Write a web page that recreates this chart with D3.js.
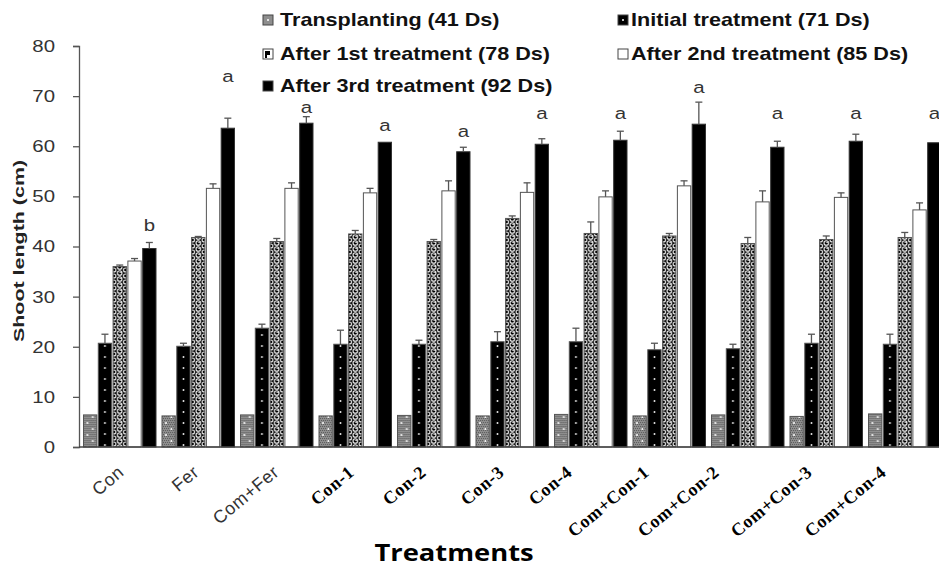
<!DOCTYPE html>
<html>
<head>
<meta charset="utf-8">
<script src="https://cdn.jsdelivr.net/npm/d3@7"></script>
<style>
    body { margin: 0; background: #fff; }
    svg { display: block; }
</style>
</head>
<body>
<svg id="canvas" width="939" height="571"></svg>
<script>
// chart data
let treatments = ['Con', 'Fer', 'Com+Fer', 'Con-1', 'Con-2', 'Con-3', 'Con-4',
    'Com+Con-1', 'Com+Con-2', 'Com+Con-3', 'Com+Con-4']
let seriesNames = ['Transplanting (41 Ds)', 'Initial treatment (71 Ds)', 'After 1st treatment (78 Ds)',
    'After 2nd treatment (85 Ds)', 'After 3rd treatment (92 Ds)']

let transplanting = [6.4, 6.2, 6.4, 6.2, 6.3, 6.2, 6.5, 6.2, 6.4, 6.1, 6.6]
let initialTreatment = [20.7, 20.1, 23.7, 20.5, 20.5, 21.0, 21.0, 19.4, 19.6, 20.7, 20.5]
let firstTreatment = [36.0, 41.8, 41.0, 42.5, 41.0, 45.6, 42.6, 42.1, 40.6, 41.4, 41.8]
let secondTreatment = [37.1, 51.6, 51.6, 50.7, 51.1, 50.8, 49.9, 52.1, 48.9, 49.8, 47.3]
let thirdTreatment = [39.6, 63.6, 64.6, 60.8, 58.9, 60.4, 61.2, 64.4, 59.8, 61.0, 60.7]

// standard errors (upper whisker only)
let errTransplanting = [0, 0, 0, 0, 0, 0, 0, 0, 0, 0, 0]
let errInitial = [1.8, 0.6, 0.8, 2.8, 0.8, 2.0, 2.7, 1.3, 0.9, 1.8, 2.0]
let errFirst = [0.3, 0.2, 0.6, 0.7, 0.4, 0.5, 2.3, 0.5, 1.2, 0.7, 1.0]
let errSecond = [0.5, 0.9, 1.1, 0.9, 2.0, 1.9, 1.2, 1.0, 2.2, 0.9, 1.4]
let errThird = [1.2, 2.0, 1.3, 0, 0.9, 1.1, 1.8, 4.4, 1.2, 1.4, 0]

let letters = ['b', 'a', 'a', 'a', 'a', 'a', 'a', 'a', 'a', 'a', 'a']
let yTicks = [0, 10, 20, 30, 40, 50, 60, 70, 80]

// layout tweaks (hand placed labels in the original)
let labelNudge = [5.5, 2, 3.5, 0, -6.5, -7, -17.5, -19, -27.5, -13, -17.5]
let letterGap = [17, 42, 10, 17, 16, 26, 18, 15, 28, 21, 30]
let stretch = 1.2

let values = [transplanting, initialTreatment, firstTreatment, secondTreatment, thirdTreatment]
let errors = [errTransplanting, errInitial, errFirst, errSecond, errThird]
let keys = ['trans', 'init', 'first', 'second', 'third']

let canvas = d3.select('#canvas')

let groupStep = 78.5
let x0 = d3.scaleBand()
    .domain(treatments)
    .range([83.5, 83.5 + groupStep * treatments.length])
    .padding(0)
let x1 = d3.scaleBand()
    .domain(keys)
    .range([0, 72.5])
    .paddingInner(0.1)
let y = d3.scaleLinear()
    .domain([0, 80])
    .range([447, 46])

let bw = x1.bandwidth()

// patterns: tile width = one group, so the texture sits on the same spot in every bar
let defs = canvas.append('defs')

let pTrans = defs.append('pattern')
    .attr('id', 'p-trans')
    .attr('patternUnits', 'userSpaceOnUse')
    .attr('x', x0.range()[0]).attr('y', 0)
    .attr('width', x0.step()).attr('height', 12)
pTrans.append('rect').attr('width', x0.step()).attr('height', 12).attr('fill', '#8e8e8e')
for (let i = 0; i < 7; i++) {
    for (let j = 0; j < 6; j++) {
        pTrans.append('rect')
            .attr('x', x1('trans') + i * 2 + (j % 2))
            .attr('y', j * 2)
            .attr('width', 1).attr('height', 1)
            .attr('fill', '#5c5c5c')
    }
}
pTrans.append('circle').attr('cx', x1('trans') + bw * 0.3).attr('cy', 3).attr('r', 1).attr('fill', '#fff')
pTrans.append('circle').attr('cx', x1('trans') + bw * 0.7).attr('cy', 9).attr('r', 1).attr('fill', '#fff')

let pInit = defs.append('pattern')
    .attr('id', 'p-init')
    .attr('patternUnits', 'userSpaceOnUse')
    .attr('x', x0.range()[0]).attr('y', 0)
    .attr('width', x0.step()).attr('height', 11)
pInit.append('rect').attr('width', x0.step()).attr('height', 11).attr('fill', '#000')
pInit.append('circle').attr('cx', x1('init') + bw / 2).attr('cy', 5).attr('r', 0.9).attr('fill', '#fff')

let pFirst = defs.append('pattern')
    .attr('id', 'p-first')
    .attr('patternUnits', 'userSpaceOnUse')
    .attr('x', x0.range()[0]).attr('y', 0)
    .attr('width', x0.step()).attr('height', 6)
pFirst.append('rect').attr('width', x0.step()).attr('height', 6).attr('fill', '#000')
let fc = x1('first') + bw / 2
let ring = (cx, cy, r) => {
    pFirst.append('circle').attr('cx', cx).attr('cy', cy).attr('r', r)
        .attr('fill', 'none').attr('stroke', '#fff').attr('stroke-width', 1.1)
}
ring(fc, 3, 2.3)
ring(fc - 5.8, 0, 2.0)
ring(fc - 5.8, 6, 2.0)
ring(fc + 5.8, 0, 2.0)
ring(fc + 5.8, 6, 2.0)
pFirst.append('circle').attr('cx', fc + 0.6).attr('cy', 2.4).attr('r', 0.7).attr('fill', '#fff')

let fills = {
    trans: 'url(#p-trans)',
    init: 'url(#p-init)',
    first: 'url(#p-first)',
    second: '#fff',
    third: '#000'
}

// bars
let rows = []
treatments.forEach((t, i) => {
    keys.forEach((k, s) => {
        rows.push({ t: t, i: i, key: k, value: values[s][i], err: errors[s][i] })
    })
})

let groups = canvas.append('g')

groups.selectAll('rect.bar')
    .data(rows)
    .enter()
    .append('rect')
    .attr('class', 'bar')
    .attr('x', (d) => x0(d.t) + x1(d.key))
    .attr('y', (d) => y(d.value))
    .attr('width', bw)
    .attr('height', (d) => y(0) - y(d.value))
    .attr('fill', (d) => fills[d.key])
    .attr('stroke', (d) => d.key === 'third' ? '#333' : '#555')
    .attr('stroke-width', 1)

// error whiskers
let withErr = rows.filter((d) => d.err > 0)
let errG = groups.selectAll('g.err')
    .data(withErr)
    .enter()
    .append('g')
    .attr('class', 'err')
    .attr('stroke', '#555')
    .attr('stroke-width', 1.3)
errG.append('line')
    .attr('x1', (d) => x0(d.t) + x1(d.key) + bw / 2)
    .attr('x2', (d) => x0(d.t) + x1(d.key) + bw / 2)
    .attr('y1', (d) => y(d.value))
    .attr('y2', (d) => y(d.value + d.err))
errG.append('line')
    .attr('x1', (d) => x0(d.t) + x1(d.key) + bw / 2 - 3.5)
    .attr('x2', (d) => x0(d.t) + x1(d.key) + bw / 2 + 3.5)
    .attr('y1', (d) => y(d.value + d.err))
    .attr('y2', (d) => y(d.value + d.err))

// significance letters
canvas.selectAll('text.letter')
    .data(letters)
    .enter()
    .append('text')
    .attr('class', 'letter')
    .attr('transform', (d, i) => {
        let cx = x0(treatments[i]) + x1('third') + bw / 2
        let top = y(thirdTreatment[i] + errThird[i])
        return 'translate(' + cx + ',' + (top - letterGap[i] + 6) + ') scale(' + stretch + ',1)'
    })
    .attr('text-anchor', 'middle')
    .attr('font-family', 'Liberation Sans, Arial, sans-serif')
    .attr('font-size', 17)
    .attr('fill', '#333')
    .text((d) => d)

// y axis
let yAxis = canvas.append('g')
    .attr('transform', 'translate(79,0)')
    .call(d3.axisLeft(y).tickValues(yTicks).tickSize(6).tickPadding(14))
yAxis.select('.domain').attr('stroke', '#555').attr('stroke-width', 1.3)
yAxis.selectAll('.tick line').attr('stroke', '#555').attr('stroke-width', 1.3)
yAxis.selectAll('.tick text')
    .attr('font-family', 'Liberation Sans, Arial, sans-serif')
    .attr('font-size', 17)
    .attr('fill', '#333')
    .attr('transform', 'scale(' + stretch + ',1)')

// x axis baseline
canvas.append('line')
    .attr('x1', 79).attr('x2', 939)
    .attr('y1', y(0)).attr('y2', y(0))
    .attr('stroke', '#444')
    .attr('stroke-width', 1.5)

// category labels
canvas.selectAll('text.cat')
    .data(treatments)
    .enter()
    .append('text')
    .attr('class', 'cat')
    .attr('x', 0)
    .attr('y', 0)
    .attr('transform', (d, i) => {
        let cx = x0(d) + x1.range()[1] / 2 + labelNudge[i]
        return 'translate(' + cx + ',474) rotate(-40)'
    })
    .attr('text-anchor', 'end')
    .attr('font-family', (d, i) => i < 3 ? 'Liberation Sans, Arial, sans-serif' : 'Liberation Serif, Times New Roman, serif')
    .attr('font-weight', (d, i) => i < 3 ? 'normal' : 'bold')
    .attr('font-size', 18)
    .attr('letter-spacing', 0.6)
    .attr('fill', (d, i) => i < 3 ? '#333' : '#000')
    .text((d) => d)

// axis titles
canvas.append('text')
    .attr('transform', 'translate(454,561) scale(1.14,1)')
    .attr('text-anchor', 'middle')
    .attr('font-family', 'Open Sans, sans-serif')
    .attr('font-weight', 'bold')
    .attr('font-size', 24)
    .attr('fill', '#000')
    .text('Treatments')

canvas.append('text')
    .attr('transform', 'translate(24,251) rotate(-90) scale(1.43,1)')
    .attr('text-anchor', 'middle')
    .attr('font-family', 'Liberation Sans, Arial, sans-serif')
    .attr('font-weight', 'bold')
    .attr('font-size', 15)
    .attr('fill', '#222')
    .text('Shoot length (cm)')

// legend
let legendCols = [263, 618]
let legendRows = [26, 60, 92]
let legend = canvas.selectAll('g.legend')
    .data(seriesNames)
    .enter()
    .append('g')
    .attr('class', 'legend')
    .attr('transform', (d, i) => 'translate(' + legendCols[i % 2] + ',' + legendRows[Math.floor(i / 2)] + ')')

legend.append('rect')
    .attr('x', 0).attr('y', -11)
    .attr('width', 10).attr('height', 10)
    .attr('fill', (d, i) => ['#8e8e8e', '#000', '#fff', '#fff', '#000'][i])
    .attr('stroke', '#444')
    .attr('stroke-width', 1)

legend.filter((d, i) => i === 0 || i === 1)
    .append('circle')
    .attr('cx', 5).attr('cy', -6).attr('r', 1)
    .attr('fill', '#fff')
legend.filter((d, i) => i === 2)
    .append('path')
    .attr('d', 'M2,-9 h5 v4 h-3 v3 h-2 z')
    .attr('fill', '#000')

legend.append('text')
    .attr('transform', (d, i) => 'translate(' + (i % 2 === 0 ? 17 : 13) + ',0) scale(' + stretch + ',1)')
    .attr('font-family', 'Liberation Sans, Arial, sans-serif')
    .attr('font-weight', 'bold')
    .attr('font-size', 18)
    .attr('fill', '#111')
    .text((d) => d)
</script>
</body>
</html>
